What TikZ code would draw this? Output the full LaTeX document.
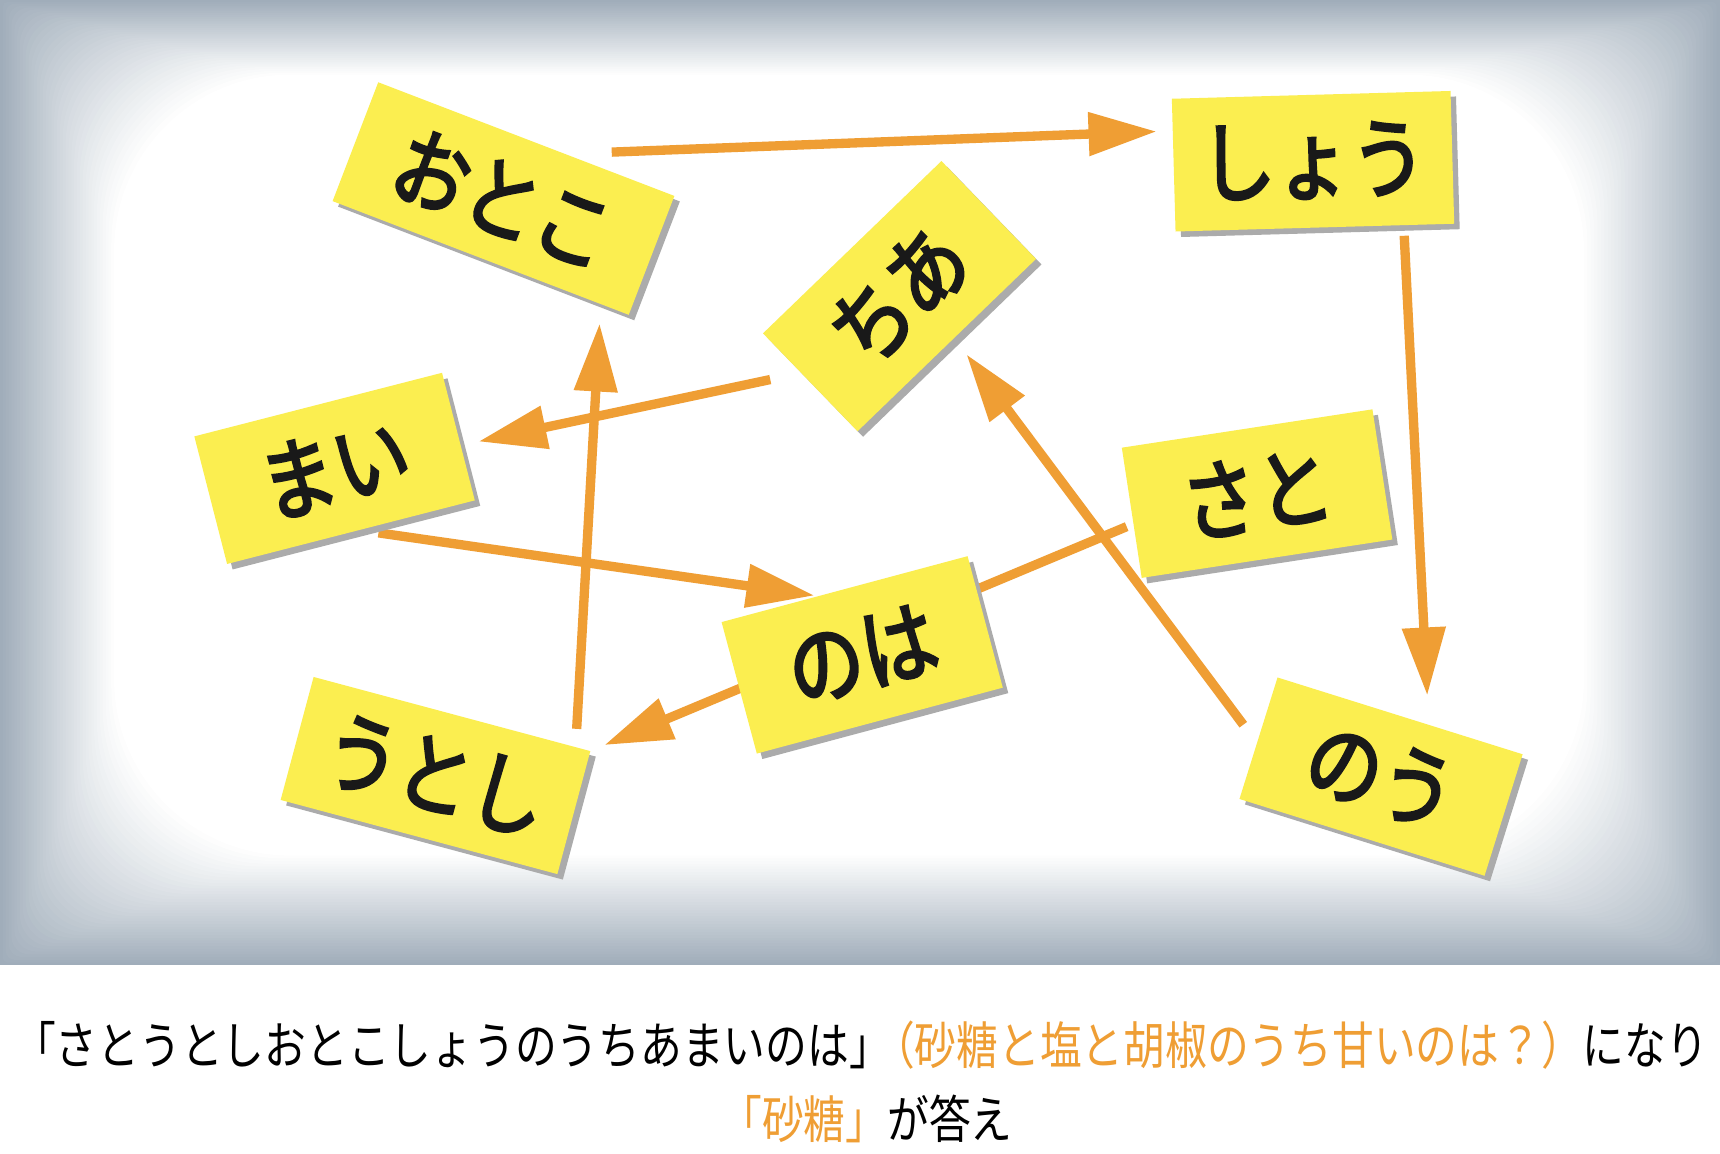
\documentclass[tikz,border=0pt]{standalone}
\usepackage{fontspec}
\usepackage{tikz}
\usetikzlibrary{positioning,arrows.meta,calc,shadows}
\newfontfamily\jpfont[FakeStretch=0.82]{Noto Sans CJK JP}
\newfontfamily\memofont[FakeStretch=0.85, FakeBold=3]{Noto Sans CJK JP}
\definecolor{memoyellow}{RGB}{251,238,80}
\definecolor{linkorange}{RGB}{239,158,52}
\definecolor{framegray}{RGB}{160,173,186}
\pgfdeclarelayer{frame}
\pgfdeclarelayer{links}
\pgfsetlayers{frame,links,main}

\begin{document}
\begin{tikzpicture}[x=0.01cm, y=-0.01cm, font=\jpfont,
  memo/.style={fill=memoyellow, inner sep=0pt, text=black!90,
    drop shadow={shadow xshift=0.05cm, shadow yshift=-0.05cm, fill=black!33, opacity=1},
    font=\memofont\fontsize{23}{26}\selectfont},
  link/.style={draw=linkorange, line width=0.085cm, -{Triangle[length=0.62cm, width=0.38cm]}}]

\useasboundingbox (0,0) rectangle (1568,1052);

\begin{pgfonlayer}{frame}
\fill[white] (0,0) rectangle (1568,1052);
\foreach \i in {0,...,40}{
  \pgfmathsetmacro\mix{\i*2.5}
  \pgfmathsetmacro\rad{\i*0.04}
  \fill[white!\mix!framegray, rounded corners=\rad cm] (\i*2.6,\i*1.7) rectangle (1568-\i*3.1,880-\i*2.5);
}
\end{pgfonlayer}

\node[memo, minimum width=2.89cm, minimum height=1.16cm, rotate=-21] (otoko) at (459,181) {おとこ};
\node[memo, minimum width=2.54cm, minimum height=1.21cm, rotate=1.6] (shou) at (1197,147) {しょう};
\node[memo, minimum width=2.26cm, minimum height=1.24cm, rotate=44] (chia) at (820,270) {ちあ};
\node[memo, minimum width=2.33cm, minimum height=1.20cm, rotate=14.4] (mai) at (305,427) {まい};
\node[memo, minimum width=2.31cm, minimum height=1.20cm, rotate=8.7] (sato) at (1146,450) {さと};
\node[memo, minimum width=2.32cm, minimum height=1.24cm, rotate=15] (noha) at (786,597) {のは};
\node[memo, minimum width=2.61cm, minimum height=1.16cm, rotate=-15] (utoshi) at (397,707) {うとし};
\node[memo, minimum width=2.34cm, minimum height=1.16cm, rotate=-17.4] (nou) at (1259,708) {のう};

\begin{pgfonlayer}{links}
\draw[link, shorten <=0.41cm, shorten >=0.14cm] ($(otoko.north west)!0.635!(otoko.north east)$) -- ($(shou.north west)!0.245!(shou.south west)$);
\draw[link, shorten <=0.09cm, shorten >=0.26cm] ($(shou.south west)!0.817!(shou.south east)$) -- ($(nou.north west)!0.615!(nou.north east)$);
\draw[link, shorten <=0.28cm, shorten >=0.16cm] ($(chia.north west)!0.402!(chia.south west)$) -- ($(mai.north east)!0.568!(mai.south east)$);
\draw[link, shorten <=0.16cm, shorten >=0.17cm] ($(utoshi.north west)!0.944!(utoshi.north east)$) -- ($(otoko.south west)!0.904!(otoko.south east)$);
\draw[link, shorten <=0.16cm, shorten >=0.02cm] ($(mai.south west)!0.54!(mai.south east)$) -- ($(noha.north west)!0.388!(noha.north east)$);
\draw[link, shorten <=0.06cm, shorten >=0.13cm] ($(sato.north west)!0.585!(sato.south west)$) -- (utoshi.north east);
\draw[link, shorten <=0.20cm, shorten >=0.18cm] ($(nou.north west)!0.535!(nou.south west)$) -- ($(chia.south west)!0.541!(chia.south east)$);
\end{pgfonlayer}

\node[font=\jpfont\fontsize{13.2}{15}\selectfont] (line1) at (785,953) {「さとうとしおとこしょうのうちあまいのは」\hspace{-0.35em}\textcolor{linkorange}{（砂糖と塩と胡椒のうち甘いのは？）}になり};
\node[font=\jpfont\fontsize{13.2}{15}\selectfont] (line2) at (790,1020) {\textcolor{linkorange}{「砂糖」}が答え};

\end{tikzpicture}
\end{document}
